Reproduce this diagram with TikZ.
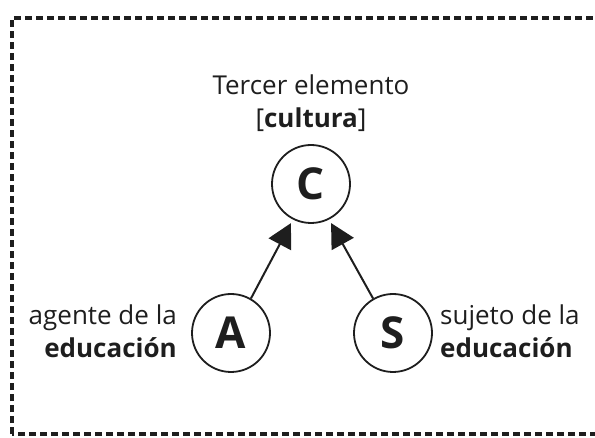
\documentclass[tikz,border=0pt]{standalone}
\usepackage{fontspec}
\setmainfont{Open Sans}
\usetikzlibrary{arrows.meta}
\definecolor{ink}{HTML}{1E1E1E}
\tikzset{
  frame/.style={draw=ink, line width=3.3pt, dash pattern=on 7pt off 4pt},
  circ/.style={circle, draw=ink, line width=1.8pt, minimum size=78pt, inner sep=0pt, font=\fontsize{44}{44}\selectfont\bfseries, text=ink},
  lbl/.style={font=\fontsize{26}{33}\selectfont, text=ink, inner sep=0pt, align=#1},
  conn/.style={draw=ink, line width=2pt, -{Triangle[length=24pt,width=25pt]}, shorten >=4pt}
}
\begin{document}
\begin{tikzpicture}[x=1pt,y=1pt]
\useasboundingbox (0,0) rectangle (595,437);
\clip (0,0) rectangle (595,437);
\draw[frame] (12,3) rectangle (620,419);
\node[circ] (C) at (311,253) {C};
\node[circ] (A) at (231,104) {A};
\node[circ] (S) at (393,104) {S};
\node[lbl=center, anchor=base] (t1) at (311,342) {Tercer elemento};
\node[lbl=center, anchor=base] (t2) at (311,309) {[\textbf{cultura}]};
\node[lbl=right, anchor=base east] (a1) at (177,112) {agente de la};
\node[lbl=right, anchor=base east] (a2) at (177,79) {\textbf{educación}};
\node[lbl=left, anchor=base west] (s1) at (440,112) {sujeto de la};
\node[lbl=left, anchor=base west] (s2) at (440,79) {\textbf{educación}};
\draw[conn] (A.60) -- (C.243);
\draw[conn] (S.120) -- (C.297);
\end{tikzpicture}
\end{document}
